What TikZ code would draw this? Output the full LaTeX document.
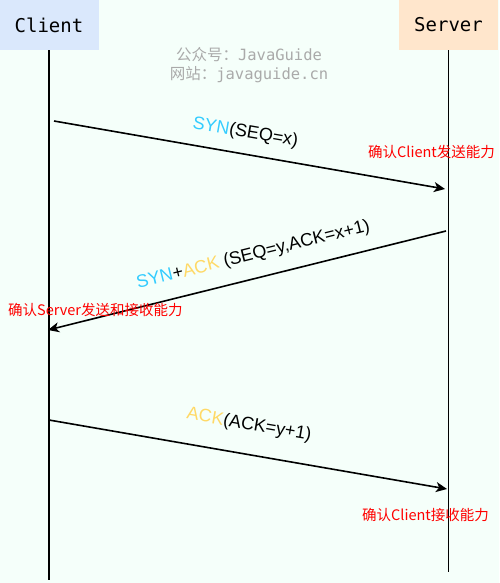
\documentclass[tikz,border=0pt]{standalone}
\usepackage{fontspec}
\setmainfont{Liberation Sans}
\newfontfamily\cjkfont{Noto Sans CJK SC}
\newfontfamily\codefont{DejaVu Sans Mono}
\usetikzlibrary{arrows.meta}

\definecolor{bgmint}{RGB}{245,255,250}
\definecolor{clientblue}{RGB}{218,232,252}
\definecolor{serverorange}{RGB}{255,230,204}
\definecolor{synblue}{RGB}{51,204,255}
\definecolor{ackyellow}{RGB}{255,217,102}
\definecolor{notered}{RGB}{255,0,0}
\definecolor{markgrey}{RGB}{170,170,170}

\tikzset{
  host/.style={minimum width=99pt, minimum height=50pt, inner sep=0pt, font=\codefont\fontsize{19}{22}\selectfont},
  lifeline/.style={line width=1.6pt},
  msg/.style={line width=1.6pt, -{Stealth[length=11pt,width=10pt,inset=3pt]}},
  lbl/.style={font=\fontsize{18}{20}\selectfont, inner sep=0pt},
  note/.style={text=notered, font=\cjkfont\fontsize{14.5}{16}\selectfont, inner sep=0pt, anchor=west},
  wmark/.style={text=markgrey, font=\codefont\fontsize{15.5}{17}\selectfont, inner sep=0pt}
}

\begin{document}
\begin{tikzpicture}[x=1pt,y=-1pt]
\useasboundingbox (0,0) rectangle (499,583);
\fill[bgmint] (0,0) rectangle (499,583);

% hosts
\node[host, fill=clientblue] (client) at (49,25) {Client};
\node[host, fill=serverorange] (server) at (448.5,25) {Server};

% watermark
\node[wmark] (wm1) at (249,55) {{\cjkfont 公众号：}JavaGuide};
\node[wmark] (wm2) at (249,75) {{\cjkfont 网站：}javaguide.cn};

% lifelines
\coordinate (cend) at (49,580);
\coordinate (send) at (448.5,572);
\draw[lifeline] (client.south) -- (cend);
\draw[lifeline] (server.south) -- (send);

% handshake points
\coordinate (c1) at (54,121);
\coordinate (s1) at (445,189);
\coordinate (s2) at (446,231);
\coordinate (c2) at (48,330);
\coordinate (c3) at (49,420);
\coordinate (s3) at (447,489);

\draw[msg] (c1) -- (s1) node[lbl, pos=0.48, sloped, above=12pt] (l1) {{\color{synblue}SYN}(SEQ=x)};
\draw[msg] (s2) -- (c2) node[lbl, pos=0.47, sloped, above=14pt] (l2) {{\color{synblue}SYN}+{\color{ackyellow}ACK} (SEQ=y,ACK=x+1)};
\draw[msg] (c3) -- (s3) node[lbl, pos=0.49, sloped, above=20pt] (l3) {{\color{ackyellow}ACK}(ACK=y+1)};

% notes
\node[note] (n1) at (368,152) {确认Client发送能力};
\node[note] (n2) at (8,310) {确认Server发送和接收能力};
\node[note] (n3) at (362,515) {确认Client接收能力};

\end{tikzpicture}
\end{document}
